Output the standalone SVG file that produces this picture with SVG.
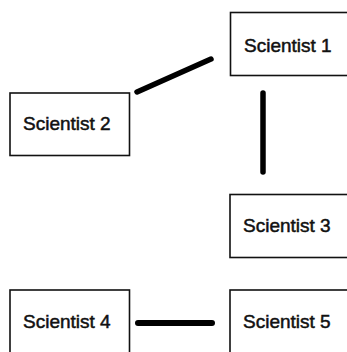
<svg xmlns="http://www.w3.org/2000/svg" width="347" height="352" viewBox="0 0 347 352">
<style>
.box{fill:#fff;stroke:#111;stroke-width:1.6}
.lbl{font-family:"Liberation Sans",Arial,sans-serif;font-size:19px;fill:#111;stroke:#111;stroke-width:0.5}
.edge{stroke:#000;stroke-linecap:round;fill:none}
</style>
<rect width="347" height="352" fill="#fff"/>
<g id="edges">
<line class="edge" x1="137" y1="92" x2="211" y2="59" stroke-width="5.5"/>
<line class="edge" x1="263" y1="93" x2="263" y2="172" stroke-width="5.5"/>
<line class="edge" x1="138" y1="323" x2="212" y2="323" stroke-width="6"/>
</g>
<g id="scientist1">
<rect class="box" x="230.5" y="12.5" width="125" height="63"/>
<text class="lbl" x="244" y="52">Scientist 1</text>
</g>
<g id="scientist2">
<rect class="box" x="10" y="93" width="119.5" height="62.5"/>
<text class="lbl" x="23" y="130">Scientist 2</text>
</g>
<g id="scientist3">
<rect class="box" x="230" y="194.5" width="125" height="63"/>
<text class="lbl" x="243" y="232">Scientist 3</text>
</g>
<g id="scientist4">
<rect class="box" x="10" y="290" width="119.5" height="70"/>
<text class="lbl" x="23" y="328">Scientist 4</text>
</g>
<g id="scientist5">
<rect class="box" x="230" y="290" width="125" height="70"/>
<text class="lbl" x="243" y="328">Scientist 5</text>
</g>
</svg>
